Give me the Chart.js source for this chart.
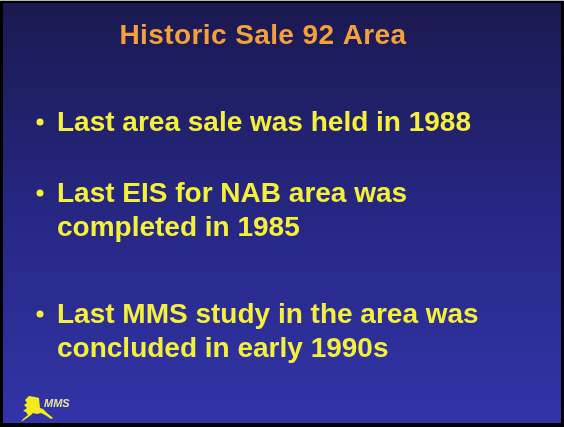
<!DOCTYPE html>
<html>
<head>
<meta charset="utf-8">
<script src="https://cdn.jsdelivr.net/npm/chart.js@4"></script>
<style>
  html, body { margin: 0; padding: 0; background: #000; }
  #slide { display: block; }
</style>
</head>
<body>
<canvas id="slide" width="564" height="427"></canvas>
<script>
// slide text
const slideTitle = "Historic Sale 92 Area";
const bulletItems = [
    ["Last area sale was held in 1988"],
    ["Last EIS for NAB area was", "completed in 1985"],
    ["Last MMS study in the area was", "concluded in early 1990s"],
];
const bulletBaselines = [131, 202, 323]; // first line of each bullet
const logoText = "MMS";

// rough outline of Alaska for the logo
const alaskaShape = [
    [0, 4], [4, 0], [10, 1], [14, 2], [15, 12], [18, 13], [22, 17], [28, 22],
    [26, 23], [20, 19], [16, 17], [12, 18], [8, 17], [6, 19], [2, 22], [-4, 26],
    [-2, 23], [3, 19], [1, 16], [-2, 15], [2, 12], [-1, 9], [2, 7],
];

// plugin that paints the slide on the chart canvas
const slidePlugin = {
    id: "slidePlugin",
    beforeDraw: (chart) => {
        const { ctx, width, height } = chart;
        ctx.save();
        ctx.fillStyle = "#000";
        ctx.fillRect(0, 0, width, height);
        ctx.fillStyle = "#b8b8b8";
        ctx.fillRect(0, 0, width, 1);

        const grad = ctx.createLinearGradient(0, 3, 0, height - 3);
        grad.addColorStop(0, "#1a1950");
        grad.addColorStop(0.5, "#262783");
        grad.addColorStop(1, "#3234a8");
        ctx.fillStyle = grad;
        ctx.fillRect(3, 3, width - 6, height - 7);
        ctx.restore();
    },
    afterDraw: (chart) => {
        const { ctx } = chart;
        ctx.save();

        // title
        ctx.fillStyle = "#f5a03a";
        ctx.font = "bold 28px 'Liberation Sans', Arial, sans-serif";
        ctx.letterSpacing = "0.4px";
        ctx.textAlign = "center";
        ctx.textBaseline = "alphabetic";
        ctx.fillText(slideTitle, 263, 44);
        ctx.letterSpacing = "0px";

        // bullets
        ctx.fillStyle = "#f5f03a";
        ctx.font = "bold 28px 'Liberation Sans', Arial, sans-serif";
        ctx.textAlign = "left";
        bulletItems.forEach((lines, i) => {
            const y0 = bulletBaselines[i];
            ctx.beginPath();
            ctx.arc(40, y0 - 9, 3.5, 0, Math.PI * 2);
            ctx.fill();
            lines.forEach((line, j) => {
                ctx.fillText(line, 57, y0 + j * 34);
            });
        });

        // logo
        ctx.fillStyle = "#f2ec1e";
        ctx.beginPath();
        alaskaShape.forEach(([x, y], k) => {
            if (k === 0) ctx.moveTo(25 + x, 396 + y);
            else ctx.lineTo(25 + x, 396 + y);
        });
        ctx.closePath();
        ctx.fill();
        ctx.font = "italic bold 11px 'Liberation Sans', Arial, sans-serif";
        ctx.fillStyle = "#e8e2a0";
        ctx.fillText(logoText, 44, 407);

        ctx.restore();
    },
};

new Chart(document.getElementById("slide").getContext("2d"), {
    type: "scatter",
    data: { datasets: [{ data: [] }] },
    options: {
        responsive: false,
        devicePixelRatio: 1,
        animation: false,
        events: [],
        plugins: { legend: { display: false }, tooltip: { enabled: false } },
        scales: { x: { display: false }, y: { display: false } },
    },
    plugins: [slidePlugin],
});
</script>
</body>
</html>
